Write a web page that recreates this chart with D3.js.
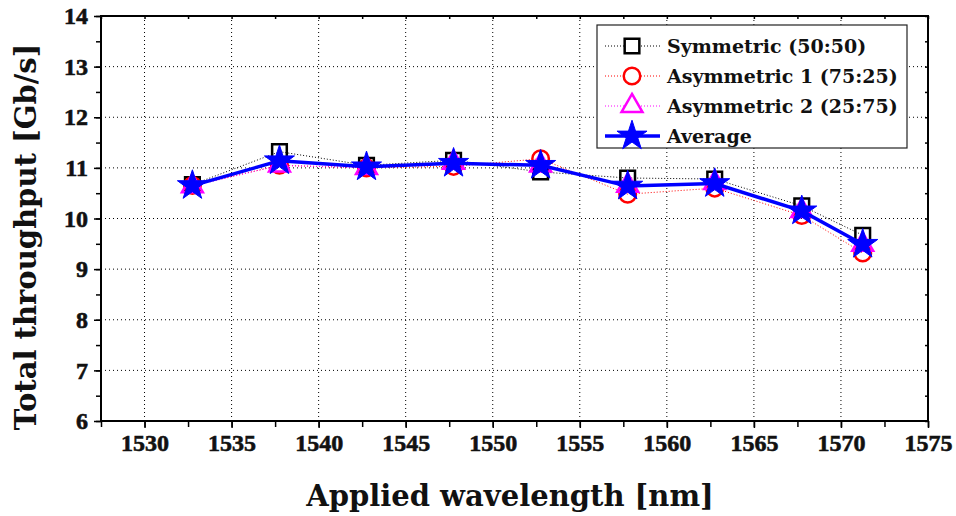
<!DOCTYPE html>
<html>
<head>
<meta charset="utf-8">
<script src="https://cdn.jsdelivr.net/npm/d3@7/dist/d3.min.js"></script>
<style>
  body { margin: 0; background: #fff; }
  svg { display: block; }
  .lbl { font-family: "DejaVu Serif", serif; font-weight: bold; fill: #111; }
</style>
</head>
<body>
<svg id="chart" width="956" height="516"></svg>
<script>
// wavelengths (nm)
var wavelength = [1532.75, 1537.75, 1542.75, 1547.75, 1552.75, 1557.75, 1562.75, 1567.75, 1571.25];
// throughput per split ratio [Gb/s]
var symmetric   = [10.67, 11.32, 11.05, 11.15, 10.92, 10.80, 10.78, 10.25, 9.67];
var asym1       = [10.65, 11.05, 11.00, 11.03, 11.18, 10.48, 10.60, 10.06, 9.32];
var asym2       = [10.64, 11.05, 11.00, 11.10, 11.05, 10.65, 10.70, 10.15, 9.48];
var average     = [10.65, 11.14, 11.02, 11.09, 11.05, 10.64, 10.69, 10.15, 9.49];

var xTicks = [1530, 1535, 1540, 1545, 1550, 1555, 1560, 1565, 1570, 1575];
var yTicks = [6, 7, 8, 9, 10, 11, 12, 13, 14];

var svg = d3.select("#chart");
var pLeft = 101, pRight = 928, pTop = 16, pBottom = 421;

var x = d3.scaleLinear().domain([1527.5, 1575]).range([pLeft, pRight]);
var y = d3.scaleLinear().domain([6, 14]).range([pBottom, pTop]);

// grid
var grid = svg.append("g");
grid.selectAll(".gx")
	.data(xTicks.filter(function(d){ return d > 1527.5 && d < 1575; }))
	.enter().append("line")
	.attr("x1", function(d){ return x(d); }).attr("x2", function(d){ return x(d); })
	.attr("y1", pTop).attr("y2", pBottom)
	.attr("stroke", "#000").attr("stroke-width", 1).attr("stroke-dasharray", "1,3");
grid.selectAll(".gy")
	.data(yTicks.filter(function(d){ return d > 6 && d < 14; }))
	.enter().append("line")
	.attr("x1", pLeft).attr("x2", pRight)
	.attr("y1", function(d){ return y(d); }).attr("y2", function(d){ return y(d); })
	.attr("stroke", "#000").attr("stroke-width", 1).attr("stroke-dasharray", "1,3");

// axes
var xMinor = d3.range(1527.5, 1575.01, 2.5);
var yMinor = d3.range(6, 14.01, 0.5);

function styleAxis(g){
	g.select(".domain").remove();
	g.selectAll("line").attr("stroke", "#000").attr("stroke-width", 1.5);
	g.selectAll("text")
		.style("font-family", "'Liberation Serif', serif")
		.style("font-weight", "bold")
		.style("font-size", "24px")
		.style("stroke", "#111").style("stroke-width", 0.6)
		.attr("fill", "#111");
}

svg.append("g").attr("transform", "translate(0," + pBottom + ")")
	.call(d3.axisBottom(x).tickValues(xMinor).tickSize(6).tickFormat(""))
	.call(styleAxis);
svg.append("g").attr("transform", "translate(0," + pBottom + ")")
	.call(d3.axisBottom(x).tickValues(xTicks).tickSize(7).tickPadding(6).tickFormat(d3.format("d")))
	.call(styleAxis);
svg.append("g").attr("transform", "translate(0," + pTop + ")")
	.call(d3.axisBottom(x).tickValues(xMinor).tickSize(3).tickFormat(""))
	.call(styleAxis);

svg.append("g").attr("transform", "translate(" + pLeft + ",0)")
	.call(d3.axisLeft(y).tickValues(yMinor).tickSize(5).tickFormat(""))
	.call(styleAxis);
svg.append("g").attr("transform", "translate(" + pLeft + ",0)")
	.call(d3.axisLeft(y).tickValues(yTicks).tickSize(7).tickPadding(6).tickFormat(d3.format("d")))
	.call(styleAxis);
svg.append("g").attr("transform", "translate(" + pRight + ",0)")
	.call(d3.axisLeft(y).tickValues(yMinor).tickSize(3).tickFormat(""))
	.call(styleAxis);

// frame
svg.append("rect")
	.attr("x", pLeft).attr("y", pTop).attr("width", pRight - pLeft).attr("height", pBottom - pTop)
	.attr("fill", "none").attr("stroke", "#000").attr("stroke-width", 2);

// series
var series = [
	{name: "Symmetric (50:50)", values: symmetric, color: "#000", dash: "1,2", width: 1, sym: d3.symbolSquare, size: 215, fill: "none"},
	{name: "Asymmetric 1 (75:25)", values: asym1, color: "#f00", dash: "1,2", width: 1, sym: d3.symbolCircle, size: 215, fill: "none"},
	{name: "Asymmetric 2 (25:75)", values: asym2, color: "#f0f", dash: "1,2", width: 1, sym: d3.symbolTriangle, size: 190, fill: "none"},
	{name: "Average", values: average, color: "#00f", dash: null, width: 3.5, sym: d3.symbolStar, size: 280, fill: "#00f"}
];

var line = d3.line()
	.x(function(d){ return x(d[0]); })
	.y(function(d){ return y(d[1]); });

series.forEach(function(s){
	var pts = wavelength.map(function(w, i){ return [w, s.values[i]]; });
	svg.append("path")
		.datum(pts)
		.attr("d", line)
		.attr("fill", "none")
		.attr("stroke", s.color)
		.attr("stroke-width", s.width)
		.attr("stroke-dasharray", s.dash);
	svg.selectAll(null)
		.data(pts)
		.enter().append("path")
		.attr("transform", function(d){ return "translate(" + x(d[0]) + "," + y(d[1]) + ")"; })
		.attr("d", d3.symbol().type(s.sym).size(s.size))
		.attr("fill", s.fill)
		.attr("stroke", s.color)
		.attr("stroke-width", s.fill === "none" ? 2.5 : 1);
});

// legend
var lg = svg.append("g");
lg.append("rect")
	.attr("x", 597).attr("y", 25).attr("width", 310).attr("height", 123)
	.attr("fill", "#fff").attr("stroke", "#222").attr("stroke-width", 1.2);
series.forEach(function(s, i){
	var cy = 46 + i * 30;
	lg.append("line")
		.attr("x1", 605).attr("x2", 660).attr("y1", cy).attr("y2", cy)
		.attr("stroke", s.color).attr("stroke-width", s.width)
		.attr("stroke-dasharray", s.dash);
	lg.append("path")
		.attr("transform", "translate(632," + cy + ")")
		.attr("d", d3.symbol().type(s.sym).size(s.size))
		.attr("fill", s.fill === "none" ? "#fff" : s.fill)
		.attr("stroke", s.color)
		.attr("stroke-width", s.fill === "none" ? 2.5 : 1);
	lg.append("text")
		.attr("class", "lbl")
		.attr("x", 667).attr("y", cy).attr("dy", "0.35em")
		.style("font-size", "19px")
		.text(s.name);
});

// axis titles
svg.append("text")
	.attr("class", "lbl")
	.attr("x", 510).attr("y", 506)
	.attr("text-anchor", "middle")
	.style("font-size", "29px")
	.text("Applied wavelength [nm]");
svg.append("text")
	.attr("class", "lbl")
	.attr("transform", "translate(36,237) rotate(-90)")
	.attr("text-anchor", "middle")
	.style("font-size", "29px")
	.text("Total throughput [Gb/s]");
</script>
</body>
</html>
